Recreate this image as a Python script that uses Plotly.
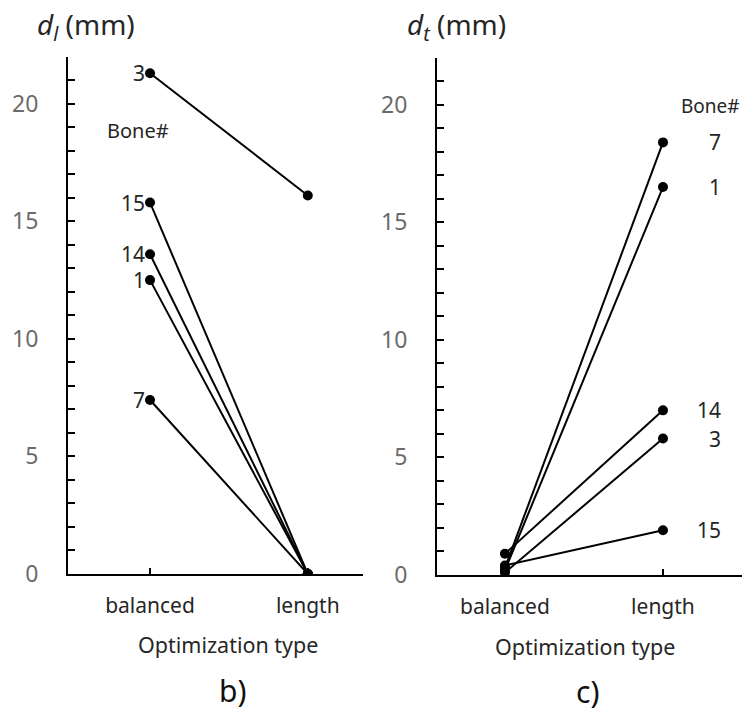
import plotly.graph_objects as go

categories = ["balanced", "length"]
bones = ["3", "15", "14", "1", "7"]

# d_l (mm) panel b)
dl_balanced = [21.3, 15.8, 13.6, 12.5, 7.4]
dl_length = [16.1, 0.0, 0.0, 0.0, 0.0]

# d_t (mm) panel c)
dt_bones = ["7", "1", "14", "3", "15"]
dt_balanced = [0.3, 0.2, 0.9, 0.1, 0.4]
dt_length = [18.4, 16.5, 7.0, 5.8, 1.9]

FONT = "Noto Sans"
xpos = [0, 1]

W, H = 742, 728


def px(x):
    return x / W


def py(y):
    return 1 - y / H


fig = go.Figure()

for i, b in enumerate(bones):
    fig.add_trace(go.Scatter(x=xpos, y=[dl_balanced[i], dl_length[i]], mode="lines+markers",
                             line=dict(color="black", width=2), marker=dict(color="black", size=10),
                             xaxis="x", yaxis="y", showlegend=False, hoverinfo="skip"))
    fig.add_annotation(x=0, y=dl_balanced[i], xref="x", yref="y", text=b, showarrow=False,
                       xanchor="right", xshift=-3, font=dict(family=FONT, size=21, color="#262626"))

for i, b in enumerate(dt_bones):
    fig.add_trace(go.Scatter(x=xpos, y=[dt_balanced[i], dt_length[i]], mode="lines+markers",
                             line=dict(color="black", width=2), marker=dict(color="black", size=10),
                             xaxis="x2", yaxis="y2", showlegend=False, hoverinfo="skip"))
    fig.add_annotation(x=1, y=dt_length[i], xref="x2", yref="y2", text=b, showarrow=False,
                       xanchor="right", xshift=60, font=dict(family=FONT, size=21, color="#262626"))

yax = dict(range=[0, 22], tickvals=[0, 5, 10, 15, 20], ticks="inside", ticklen=7, tickwidth=2,
           tickcolor="black", showline=True, linecolor="black", linewidth=2, showgrid=False,
           zeroline=False, ticklabelstandoff=23,
           tickfont=dict(family=FONT, size=23, color="#6b6b6b"),
           minor=dict(dtick=1, ticks="inside", ticklen=7, tickwidth=2, tickcolor="black", showgrid=False))
xax_common = dict(ticks="inside", ticklen=6, tickwidth=2, tickcolor="black", showline=True,
                  linecolor="black", linewidth=2, showgrid=False, zeroline=False,
                  tickfont=dict(family=FONT, size=21, color="#262626"), ticklabelstandoff=12)

fig.update_layout(
    width=W, height=H, margin=dict(l=0, r=0, t=0, b=0),
    plot_bgcolor="white", paper_bgcolor="white",
    xaxis=dict(xax_common, range=[-0.52, 1.35], tickvals=[0, 1, 1.35], ticktext=categories + [""],
               domain=[px(68), px(363)], anchor="y"),
    yaxis=dict(yax, anchor="x", domain=[py(586), py(58)]),
    xaxis2=dict(xax_common, range=[-0.43, 1.5], tickvals=[0, 1], ticktext=categories,
                domain=[px(437), 1.0], anchor="y2"),
    yaxis2=dict(yax, anchor="x2", domain=[py(587), py(59)]),
)


def ann(x, y, text, size, color="#262626", xanchor="center"):
    fig.add_annotation(x=px(x), y=py(y), xref="paper", yref="paper", text=text, showarrow=False,
                       xanchor=xanchor, yanchor="middle", font=dict(family=FONT, size=size, color=color))


ann(35, 27, "<i>d</i><sub><i>l</i></sub> (mm)", 28, xanchor="left")
ann(405, 27, "<i>d</i><sub><i>t</i></sub> (mm)", 28, xanchor="left")
ann(138, 133, "Bone#", 20)
ann(679, 108, "Bone#", 19, xanchor="left")
ann(228, 658, "Optimization type", 21.5)
ann(585, 660, "Optimization type", 21.5)
ann(232, 705, "b)", 30, color="#111111")
ann(587, 706, "c)", 30, color="#111111")

fig.write_html(
    "out.html",
    config={"displayModeBar": False},
    post_script="document.documentElement.style.overflow='hidden';"
                "document.body.style.margin='0';document.body.style.overflow='hidden';",
)
